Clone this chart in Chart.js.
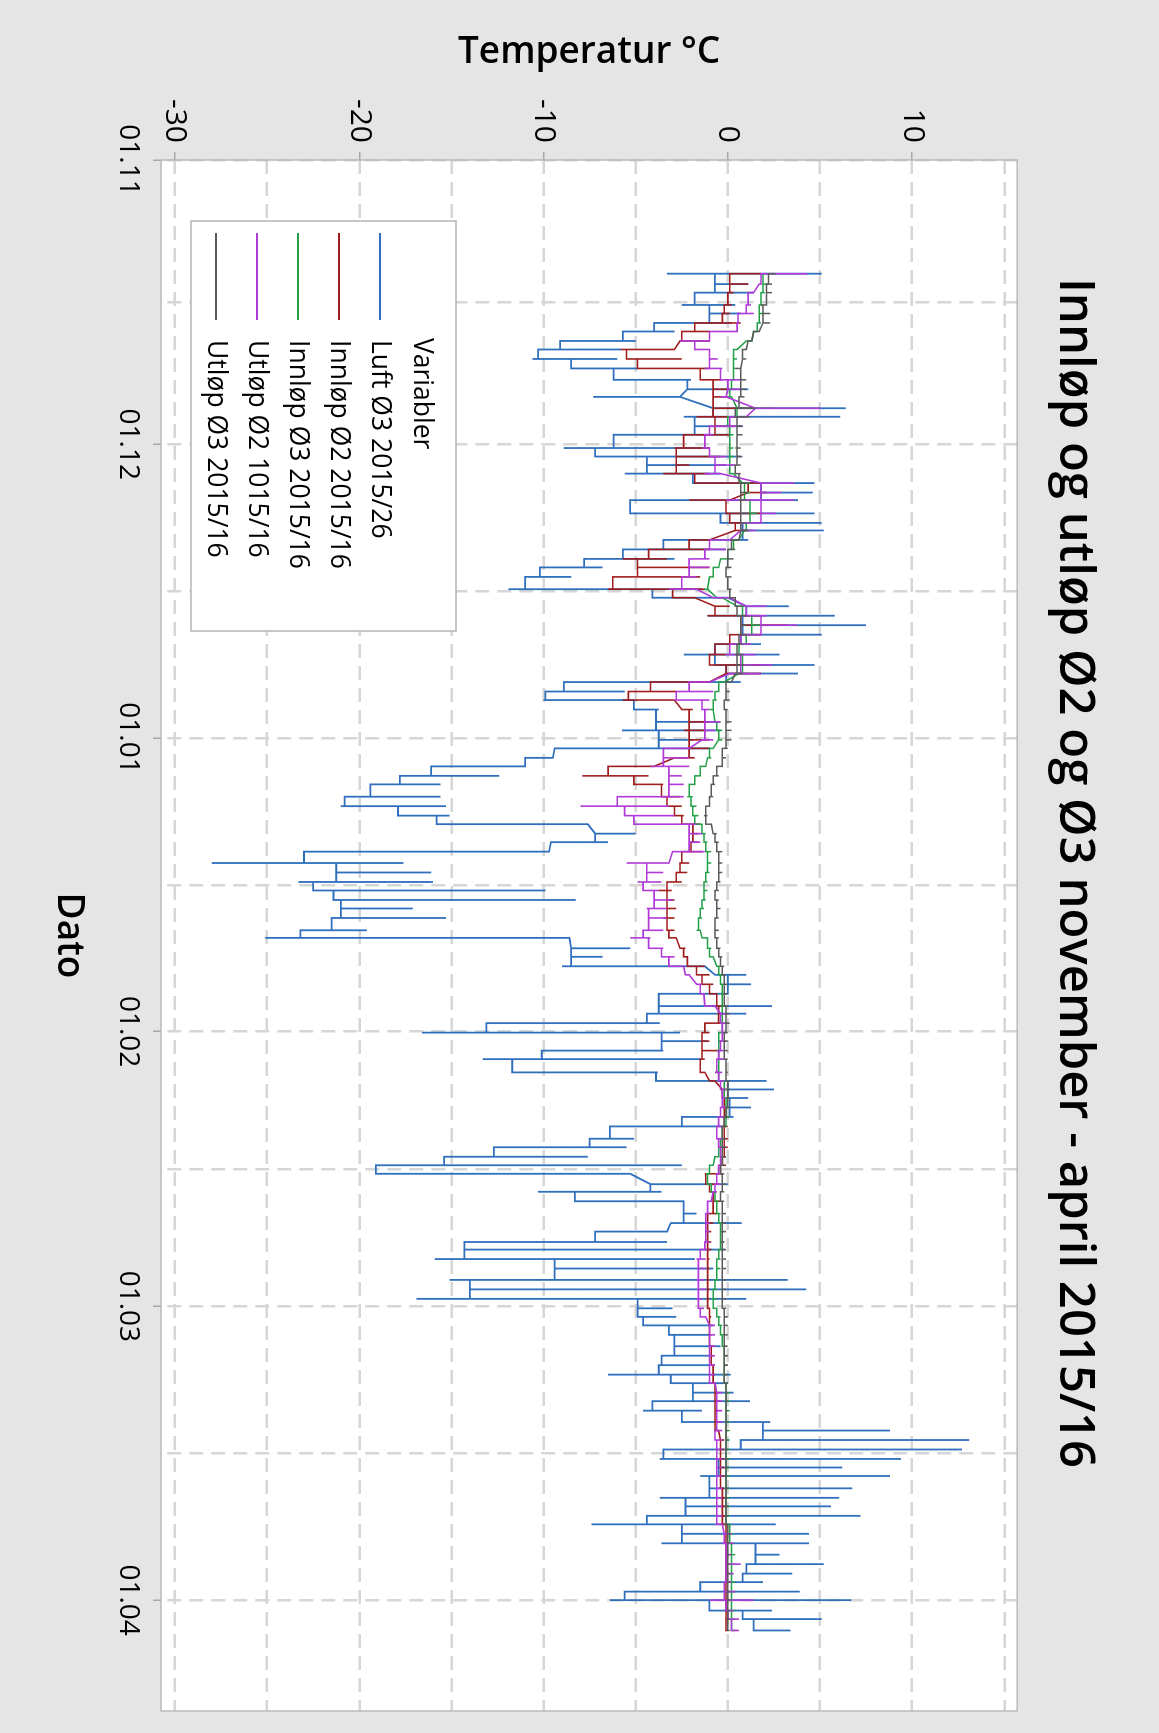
<!DOCTYPE html>
<html><head><meta charset="utf-8">
<script src="https://cdn.jsdelivr.net/npm/chart.js@4.4.1/dist/chart.umd.min.js"></script>
<style>
html,body{margin:0;padding:0;background:#e5e5e5;width:1159px;height:1733px;overflow:hidden}
#wrap{position:absolute;left:0;top:0;width:1733px;height:1159px;transform-origin:0 0;transform:translate(1159px,0) rotate(90deg)}
canvas{display:block}
</style></head><body>
<div id="wrap"><canvas id="c" width="1733" height="1159"></canvas></div>
<script>
const chartTitle = 'Innløp og utløp Ø2 og Ø3 november - april 2015/16';
const xTitle = 'Dato';
const yTitle = 'Temperatur °C';
const legendTitle = 'Variabler';
const seriesNames = ['Luft Ø3 2015/26','Innløp Ø2 2015/16','Innløp Ø3 2015/16','Utløp Ø2 1015/16','Utløp Ø3 2015/16'];
const seriesColors = ['#2f6fbd','#a01d1d','#23a047','#b03ad8','#5a5a5a'];
const seriesWidths = [1.8,1.6,1.5,1.6,1.5];

// x axis: days after 01.11.2015
const monthTickDays = [0,30,61,92,121,152];
const monthTickLabels = ['01.11','01.12','01.01','01.02','01.03','01.04'];
const midMonthDays = [15,45.5,76.5,106.5,136.5];
const tempTicks = [-30,-25,-20,-15,-10,-5,0,5,10,15];
const tempLabels = ['-30','','-20','','-10','','0','','10',''];

// reading dates (days after 01.11); each date has several readings spanning [lo, hi]
const days = [12.0,13.1,14.0,15.3,16.2,17.2,18.1,19.1,20.0,21.0,
22.0,23.2,24.2,25.0,26.2,27.1,28.1,29.0,30.4,31.3,
32.2,33.1,34.1,35.1,35.9,37.3,38.3,39.1,40.1,41.1,
42.1,43.0,44.0,45.3,46.2,47.1,48.1,49.1,50.1,51.1,
52.2,53.3,54.2,55.1,56.1,57.0,58.0,59.3,60.2,61.2,
62.1,63.1,64.0,65.0,65.9,67.2,68.2,69.2,70.1,71.1,
72.0,73.0,74.2,75.2,76.2,77.1,78.1,79.0,80.0,81.3,
82.1,83.2,84.1,85.1,86.0,87.0,88.0,89.3,90.1,91.1,
92.1,93.0,94.0,94.9,96.3,97.2,98.1,99.0,100.0,101.0,
102.0,103.3,104.2,105.2,106.1,107.0,108.1,108.9,109.9,111.2,
112.2,113.1,114.2,115.0,116.0,117.0,118.2,119.2,120.2,121.2,
122.1,123.0,124.0,125.2,126.2,127.2,128.2,129.1,130.1,131.0,
132.0,133.2,134.1,135.1,136.1,137.1,138.0,138.9,140.2,141.2,
142.1,143.1,144.0,145.0,146.0,147.2,148.2,149.2,150.1,151.1,
152.0,153.1,154.0,155.2];

const luftLo = [-3.3,-0.7,-1.8,-2.5,-1.0,-4.0,-5.7,-9.1,-10.3,-10.6,
-8.5,-6.2,-2.2,-7.3,-0.8,-2.4,-1.8,-6.2,-8.9,-7.2,
-4.4,-5.6,-1.9,1.8,-5.3,-5.3,-0.4,0.8,-3.5,-5.7,
-7.8,-10.2,-11.0,-11.9,-4.1,1.0,-1.1,0.8,0.7,-0.7,
-2.4,-0.7,-0.1,-8.9,-9.9,-10.0,-5.1,-3.9,-5.75,-3.75,
-9.4,-11.0,-16.1,-17.8,-19.4,-20.8,-21.0,-17.9,-15.8,-7.2,
-9.6,-23.0,-28.0,-21.25,-23.3,-22.5,-21.4,-21.0,-21.5,-23.2,
-25.1,-8.5,-8.5,-9.0,-0.7,0.0,-3.75,-3.75,-4.4,-13.1,
-16.6,-3.6,-10.1,-13.3,-11.7,-3.9,0.0,0.0,0.1,-2.5,
-6.4,-7.5,-12.7,-15.4,-19.1,-19.1,-4.2,-10.3,-8.3,-2.4,
-3.1,-7.2,-14.3,-14.3,-15.9,-9.4,-15.1,-14.0,-16.9,-4.9,
-4.9,-4.6,-3.2,-2.9,-3.6,-3.75,-6.5,-3.1,-1.9,-4.1,
-4.6,-2.5,1.9,0.7,-3.5,-3.7,-0.5,-1.5,-1.0,-3.7,
-2.3,-4.4,-7.4,-2.5,-3.6,1.5,1.0,0.8,-1.5,-5.6,
-6.4,-1.0,0.8,1.4];
const luftHi = [5.1,1.1,1.4,0.4,0.7,0.2,-2.9,-5.0,-5.8,-6.0,
-4.9,-2.0,1.1,-2.6,6.4,6.1,0.8,0.1,-1.0,0.7,
-0.1,-0.4,4.7,4.6,3.8,4.7,5.1,5.2,1.1,-0.1,
-2.9,-6.8,-8.5,-1.4,0.0,3.3,5.8,7.5,5.1,1.8,
2.8,4.7,3.8,0.7,-5.6,-5.1,-3.75,-0.6,-0.4,-1.9,
-1.0,-9.5,-11.0,-12.4,-15.6,-15.6,-15.3,-15.1,-7.6,-5.0,
-6.5,-9.7,-17.6,-16.1,-16.0,-9.9,-8.25,-17.1,-15.3,-19.6,
-8.6,-5.3,-6.8,-1.25,1.0,1.25,0.0,2.4,1.0,-3.7,
-2.6,-1.1,-3.5,-1.5,-3.8,2.1,2.5,1.1,1.25,0.3,
-0.3,-5.1,-5.5,-7.6,-2.5,-5.3,0.0,-3.6,-2.4,-1.7,
0.75,-3.3,-3.3,-0.15,-1.8,-0.8,3.25,4.25,1.0,-3.0,
-2.8,-0.8,-1.0,-0.4,-1.0,-1.0,0.15,0.0,0.3,1.2,
-1.4,2.3,8.8,13.1,12.7,9.4,6.2,8.8,6.75,6.05,
5.6,7.2,2.6,4.4,4.4,2.8,5.2,3.5,1.9,3.9,
6.7,2.4,5.1,3.4];

const innlop2Lo = [0.1,0.1,0.0,-0.2,-0.3,-1.8,-2.5,-2.6,-5.8,-5.5,
-4.9,-1.5,-0.8,-0.8,-0.8,-1.7,-0.7,-2.4,-2.9,-2.8,
-2.8,-3.5,-1.8,1.1,-2.1,-0.1,0.1,0.4,-2.1,-4.3,
-5.7,-4.9,-6.25,-6.5,-3.0,-0.7,-1.1,0.7,0.1,-0.7,
-1.0,-1.0,-0.1,-4.2,-5.4,-5.7,-2.5,-2.1,-2.4,-2.1,
-2.1,-2.9,-6.5,-7.9,-5.1,-3.6,-3.3,-2.9,-2.5,-1.9,
-2.0,-2.5,-2.6,-2.8,-3.3,-3.75,-3.3,-3.3,-3.5,-3.3,
-3.2,-2.6,-2.4,-2.2,-1.7,-1.4,-1.0,-0.6,-0.5,-1.25,
-1.4,-1.4,-1.4,-1.5,-1.5,-1.0,-0.3,-0.3,-0.2,-0.2,
-0.2,-0.2,-0.2,-0.3,-0.4,-1.25,-1.2,-1.0,-0.8,-1.1,
-1.1,-1.1,-1.1,-1.1,-1.1,-1.1,-1.1,-1.1,-1.1,-1.1,
-1.0,-1.0,-1.0,-1.0,-0.9,-0.9,-0.8,-0.8,-0.7,-0.7,
-0.7,-0.7,-0.7,-0.4,-0.4,-0.4,-0.4,-0.4,-0.4,-0.3,
-0.3,-0.3,-0.3,-0.1,-0.1,-0.1,-0.1,-0.1,-0.1,-0.1,
-0.1,-0.1,-0.1,-0.1];
const innlop2Hi = [1.8,1.1,0.3,0.2,0.1,0.7,-1.0,-1.0,-2.9,-2.5,
-1.0,-0.3,0.0,0.0,1.5,0.4,0.4,0.1,-1.0,-0.4,
-2.1,-1.0,1.8,2.1,0.1,1.8,0.7,1.0,-1.0,-1.0,
-3.3,-1.0,-1.5,-1.25,-1.8,0.1,1.8,3.2,1.8,0.4,
-0.1,1.8,1.8,-1.0,-2.8,-2.9,-1.9,-1.0,-1.25,-1.0,
-1.0,-1.8,-4.0,-4.3,-3.5,-2.6,-2.5,-2.4,-1.5,-1.6,
-1.6,-1.4,-2.1,-2.2,-2.5,-3.05,-2.9,-2.8,-2.9,-2.9,
-2.8,-2.3,-2.2,-1.25,-1.0,-0.8,-0.6,-0.3,-0.3,-0.3,
-1.0,-1.0,-0.4,-1.25,-1.25,-0.7,0.0,0.0,0.0,0.0,
0.0,0.0,0.0,-0.1,-0.1,-0.4,-0.5,-0.6,-0.4,-0.6,
-0.8,-0.9,-0.9,-0.9,-1.0,-1.0,-1.0,-1.0,-1.0,-1.0,
-0.9,-0.9,-0.9,-0.8,-0.8,-0.7,-0.7,-0.7,-0.5,-0.5,
-0.5,-0.5,-0.5,-0.2,-0.2,-0.2,-0.2,-0.2,-0.2,-0.1,
-0.1,-0.1,-0.1,0.0,0.0,0.0,0.0,0.0,0.0,0.0,
0.0,0.0,0.0,0.0];

const innlop3Lo = [1.9,1.9,1.8,1.7,1.7,1.6,1.4,1.0,0.3,0.3,
0.3,0.2,0.1,0.0,0.5,0.0,-0.3,0.1,0.1,0.1,
0.1,0.1,0.8,0.9,0.9,1.2,1.0,0.9,0.3,0.0,
-0.4,-0.8,-1.0,-1.3,-0.6,0.5,0.8,1.3,1.0,0.6,
0.5,0.8,0.6,-0.5,-0.7,-0.8,-1.0,-0.7,-0.6,-0.5,
-1.0,-1.1,-1.5,-1.8,-2.1,-2.2,-2.0,-1.9,-1.8,-1.4,
-1.3,-1.2,-1.1,-1.2,-1.3,-1.3,-1.4,-1.5,-1.6,-1.7,
-1.4,-1.1,-1.0,-0.6,-0.5,-0.4,-0.3,-0.3,-0.4,-0.3,
-0.5,-0.5,-0.6,-0.5,-0.7,-0.5,-0.2,-0.2,-0.1,-0.1,
-0.3,-0.4,-0.5,-0.7,-1.0,-1.2,-1.1,-0.9,-0.7,-0.6,
-0.5,-0.4,-0.4,-0.5,-0.6,-0.6,-0.7,-0.8,-0.8,-0.8,
-0.6,-0.5,-0.4,-0.3,-0.2,-0.2,-0.3,-0.2,-0.1,-0.1,
-0.1,-0.1,-0.1,-0.1,-0.1,-0.1,-0.1,-0.1,-0.1,-0.1,
-0.1,-0.1,-0.1,0.1,0.1,0.2,0.2,0.1,0.2,0.2,
0.1,0.2,0.2,0.2];
const innlop3Hi = [2.2,2.2,2.0,1.9,1.9,1.8,1.6,1.3,0.5,0.5,
0.4,0.4,0.4,0.2,2.4,0.6,0.2,0.3,0.3,0.3,
0.3,0.3,1.2,1.2,1.3,1.6,1.4,1.3,0.6,0.3,
0.0,-0.5,-0.8,-1.1,-0.3,1.0,1.5,1.9,1.5,1.0,
0.9,1.3,1.0,-0.2,-0.5,-0.6,-0.8,-0.4,-0.3,-0.3,
-0.8,-0.9,-1.2,-1.5,-1.8,-1.9,-1.7,-1.6,-1.4,-1.2,
-1.1,-0.9,-0.9,-1.0,-1.1,-1.1,-1.2,-1.3,-1.4,-1.5,
-1.1,-0.9,-0.8,-0.4,-0.3,-0.2,-0.1,-0.1,-0.2,-0.1,
-0.3,-0.3,-0.4,-0.3,-0.5,-0.2,0.0,0.0,0.1,0.1,
-0.1,-0.2,-0.3,-0.5,-0.8,-1.0,-0.9,-0.7,-0.5,-0.4,
-0.3,-0.2,-0.2,-0.3,-0.4,-0.4,-0.5,-0.6,-0.6,-0.6,
-0.4,-0.3,-0.2,-0.1,0.0,0.0,-0.1,0.0,0.1,0.1,
0.1,0.1,0.1,0.1,0.1,0.1,0.1,0.1,0.1,0.1,
0.1,0.1,0.1,0.3,0.3,0.4,0.4,0.3,0.4,0.4,
0.3,0.4,0.4,0.4];

const utlop2Lo = [1.8,1.7,1.1,1.0,0.55,0.5,-1.0,-2.6,-1.8,-1.0,
-1.25,-0.4,0.0,-0.4,1.5,0.1,-1.0,-1.25,-1.4,-1.0,
-0.7,-1.25,1.8,1.8,-0.1,1.8,0.7,0.7,-1.0,-1.25,
-2.1,-2.1,-2.5,-3.2,-0.8,1.0,0.7,1.8,0.7,0.1,
-0.1,0.7,0.1,-2.1,-2.8,-2.9,-1.4,-1.25,-1.25,-1.4,
-3.5,-3.5,-4.2,-3.2,-3.2,-6.0,-8.0,-5.6,-5.1,-2.1,
-2.1,-3.0,-5.5,-4.4,-4.9,-4.6,-4.0,-4.4,-4.3,-4.6,
-5.3,-4.3,-3.6,-3.2,-2.3,-1.7,-1.5,-1.25,-0.4,-0.4,
-0.3,-0.4,-0.5,-0.6,-0.7,-0.5,-0.4,-0.3,-0.4,-0.5,
-0.6,-0.6,-0.5,-0.4,-0.5,-0.6,-0.7,-0.8,-1.1,-1.25,
-1.2,-1.2,-1.25,-1.5,-1.7,-1.6,-1.7,-1.6,-1.7,-1.6,
-1.5,-1.0,-1.0,-1.0,-1.0,-1.0,-1.0,-1.0,-0.6,-0.6,
-0.6,-0.6,-0.7,-0.7,-0.6,-0.6,-0.6,-0.6,-0.6,-0.6,
-0.6,-0.6,-0.6,-0.2,-0.3,-0.1,-0.1,-0.1,-0.2,-0.2,
-1.0,-0.1,0.0,0.2];
const utlop2Hi = [4.3,1.8,1.4,1.25,1.4,0.6,0.55,-1.0,-1.0,-0.55,
-0.3,0.7,0.7,-0.1,5.0,1.0,0.8,-0.8,-1.0,-0.1,
0.4,-0.4,3.6,2.9,3.6,2.6,1.8,1.5,0.1,-0.1,
-1.0,-1.0,-1.7,-1.7,0.1,2.1,2.1,3.75,1.8,1.25,
1.5,2.4,1.8,-1.0,-0.8,-1.0,-1.0,-0.4,-0.7,-0.8,
-2.1,-2.1,-2.1,-2.5,-2.4,-2.4,-3.2,-2.9,-1.7,-1.4,
-1.5,-1.25,-3.2,-3.5,-3.6,-3.75,-3.0,-3.3,-3.3,-3.5,
-4.2,-3.5,-2.9,-2.4,-2.1,-1.4,-1.3,-0.7,0.0,0.0,
-0.1,-0.1,-0.2,-0.2,-0.3,-0.2,-0.1,-0.1,-0.1,-0.2,
-0.3,-0.3,-0.2,-0.2,-0.3,-0.3,-0.4,-0.6,-0.9,-1.0,
-1.0,-1.0,-1.0,-1.1,-1.2,-1.2,-1.3,-1.2,-1.4,-1.3,
-1.2,-0.7,-0.7,-0.7,-0.7,-0.7,-0.7,-0.7,-0.3,-0.3,
-0.3,-0.3,-0.3,-0.3,-0.3,-0.3,-0.3,-0.3,-0.3,-0.3,
-0.3,-0.3,-0.3,0.2,0.3,0.2,0.7,0.3,0.2,0.4,
1.4,0.3,0.6,0.6];

const utlop3Lo = [2.2,2.1,2.1,1.8,1.9,1.9,1.4,1.1,0.8,0.8,
0.4,0.7,0.7,0.6,0.4,0.4,0.5,0.5,0.4,0.5,
0.4,0.4,0.6,0.7,0.6,0.7,0.7,0.7,0.2,0.0,
0.0,-0.1,-0.1,0.0,0.1,0.4,0.5,0.7,0.6,0.5,
0.4,0.5,0.4,-0.1,-0.1,-0.2,-0.2,-0.1,-0.1,-0.1,
-0.3,-0.3,-0.6,-0.8,-0.9,-1.0,-1.2,-1.3,-1.2,-0.8,
-0.7,-0.6,-0.5,-0.5,-0.6,-0.7,-0.7,-0.6,-0.7,-0.7,
-0.7,-0.6,-0.5,-0.4,-0.3,-0.2,-0.2,-0.2,-0.1,-0.1,
-0.2,-0.2,-0.2,-0.2,-0.1,-0.1,0.0,0.0,-0.1,-0.2,
-0.3,-0.3,-0.3,-0.3,-0.4,-0.4,-0.3,-0.4,-0.4,-0.3,
-0.3,-0.3,-0.4,-0.3,-0.3,-0.3,-0.3,-0.3,-0.3,-0.3,
-0.2,-0.2,-0.2,-0.2,-0.2,-0.2,-0.2,-0.2,-0.1,-0.1,
-0.1,-0.1,-0.1,-0.1,-0.1,-0.1,-0.1,-0.1,-0.1,-0.1,
-0.1,-0.1,-0.1,0.0,0.0,0.0,0.0,0.0,0.0,0.0,
0.0,0.0,0.0,0.0];
const utlop3Hi = [2.6,2.4,2.4,2.1,2.3,2.3,1.7,1.3,1.0,1.0,
0.7,1.0,1.0,0.9,1.5,1.2,0.8,0.8,0.7,0.8,
0.7,0.7,1.1,1.1,1.0,1.1,1.0,1.1,0.6,0.4,
0.3,0.2,0.2,0.2,0.4,0.8,1.0,1.0,1.0,0.8,
0.8,0.9,0.8,0.2,0.1,0.1,0.0,0.2,0.2,0.2,
0.0,-0.1,-0.3,-0.5,-0.7,-0.8,-1.0,-1.1,-0.9,-0.6,
-0.5,-0.3,-0.3,-0.3,-0.4,-0.5,-0.5,-0.4,-0.5,-0.5,
-0.5,-0.4,-0.3,-0.2,-0.1,0.0,0.0,0.0,0.1,0.1,
0.0,0.0,0.0,0.0,0.0,0.1,0.1,0.1,0.1,0.0,
-0.1,-0.1,-0.1,-0.1,-0.2,-0.2,-0.1,-0.2,-0.2,-0.1,
-0.1,-0.1,-0.2,-0.1,-0.1,-0.1,-0.1,-0.1,-0.1,-0.1,
0.0,0.0,0.0,0.0,0.0,0.0,0.0,0.0,0.0,0.0,
0.0,0.0,0.0,0.0,0.0,0.0,0.0,0.0,0.0,0.0,
0.0,0.0,0.0,0.1,0.1,0.1,0.1,0.1,0.1,0.1,
0.1,0.1,0.1,0.1];

// Path through the readings: all readings of one date share its x (drawn as one span lo..hi);
// the line then continues from the last reading of the date to the first reading of the next date.
function buildPoints(lo, hi) {
  const pts = [];
  const n = days.length;
  let start = lo[0];
  for (let i = 0; i < n; i++) {
    const L = lo[i], H = hi[i];
    let end = H;
    if (i + 1 < n) {
      const nl = lo[i + 1], nh = hi[i + 1];
      const ol = Math.max(L, nl), oh = Math.min(H, nh);
      end = ol <= oh ? ol : (nh < L ? L : H);
    }
    const first = Math.abs(start - L) < Math.abs(start - H) ? H : L;
    pts.push({x: days[i], y: start}, {x: days[i], y: L === first ? H : L}, {x: days[i], y: first}, {x: days[i], y: end});
    if (i + 1 < n) start = Math.min(Math.max(end, lo[i + 1]), hi[i + 1]);
  }
  return pts;
}
const seriesLo = [luftLo, innlop2Lo, innlop3Lo, utlop2Lo, utlop3Lo];
const seriesHi = [luftHi, innlop2Hi, innlop3Hi, utlop2Hi, utlop3Hi];

const FONT = "'Open Sans', 'Noto Sans', sans-serif";
Chart.defaults.font.family = FONT;
Chart.defaults.color = '#000';

const xTicks = monthTickDays.concat(midMonthDays).sort((a,b)=>a-b);

const framePlugin = {
  id: 'frame',
  beforeDraw(chart) {
    const {ctx, chartArea: a} = chart;
    ctx.save();
    ctx.fillStyle = '#e5e5e5';
    ctx.fillRect(0, 0, chart.width, chart.height);
    ctx.fillStyle = '#ffffff';
    ctx.fillRect(a.left, a.top, a.right - a.left, a.bottom - a.top);
    ctx.restore();
  },
  beforeDatasetsDraw(chart) {
    const {ctx, chartArea: a} = chart;
    ctx.save();
    ctx.strokeStyle = '#b9b9b9';
    ctx.lineWidth = 1.5;
    ctx.strokeRect(a.left, a.top, a.right - a.left, a.bottom - a.top);
    ctx.restore();
  },
  afterDatasetsDraw(chart) {
    const {ctx} = chart;
    const box = {l: 221, t: 703, r: 631, b: 968};
    ctx.save();
    ctx.fillStyle = '#ffffff';
    ctx.fillRect(box.l, box.t, box.r - box.l, box.b - box.t);
    ctx.strokeStyle = '#b4b4b4';
    ctx.lineWidth = 1.5;
    ctx.strokeRect(box.l, box.t, box.r - box.l, box.b - box.t);
    ctx.font = '500 26.5px ' + FONT;
    ctx.fillStyle = '#000';
    ctx.textBaseline = 'middle';
    ctx.textAlign = 'left';
    ctx.fillText(legendTitle, 338, 737);
    seriesNames.forEach((name, i) => {
      const y = 779 + i * 41;
      ctx.strokeStyle = seriesColors[i];
      ctx.lineWidth = 2;
      ctx.beginPath(); ctx.moveTo(233, y); ctx.lineTo(320, y); ctx.stroke();
      ctx.fillText(name, 340, y);
    });
    ctx.restore();
  }
};

const datasets = seriesNames.map((name, i) => ({
  label: name,
  data: buildPoints(seriesLo[i], seriesHi[i]),
  borderColor: seriesColors[i],
  backgroundColor: seriesColors[i],
  borderWidth: seriesWidths[i],
  pointRadius: 0,
  fill: false,
  tension: 0,
  order: 5 - i
}));

new Chart(document.getElementById('c'), {
  type: 'line',
  data: { datasets },
  options: {
    responsive: false,
    animation: false,
    layout: { padding: { left: 35, right: 22, top: 0, bottom: 0 } },
    plugins: {
      legend: { display: false },
      tooltip: { enabled: false },
      title: {
        display: true, text: chartTitle, color: '#000',
        font: { size: 49, weight: '600', family: FONT },
        padding: { top: 56, bottom: 27 }
      }
    },
    scales: {
      x: {
        type: 'linear', min: 0, max: 163.7,
        afterBuildTicks(s) { s.ticks = xTicks.map(v => ({ value: v })); },
        afterFit(s) { s.height = 161; },
        ticks: {
          autoSkip: false, maxRotation: 0, minRotation: 0, padding: 8, color: '#000',
          font: { size: 28, weight: '500' },
          callback(v) { const i = monthTickDays.indexOf(v); return i >= 0 ? monthTickLabels[i] : ''; }
        },
        grid: {
          color: '#d6d6d6', lineWidth: 2.5, tickLength: 8, tickWidth: 1.5, tickBorderDash: [],
          borderDash: [14, 8],
          tickColor: (c) => (c.tick && monthTickDays.includes(c.tick.value)) ? '#a8a8a8' : 'rgba(0,0,0,0)'
        },
        border: { display: false, dash: [14, 8] },
        title: { display: true, text: xTitle, color: '#000', font: { size: 37, weight: '600' }, padding: { top: 0, bottom: 46 } }
      },
      y: {
        type: 'linear', min: -30.76, max: 15.7,
        afterBuildTicks(s) { s.ticks = tempTicks.map(v => ({ value: v })); },
        afterFit(s) { s.width = 125; },
        ticks: {
          autoSkip: false, padding: 9, color: '#000', font: { size: 30, weight: '500' },
          callback(v) { const i = tempTicks.indexOf(v); return i >= 0 ? tempLabels[i] : ''; }
        },
        grid: {
          color: '#d6d6d6', lineWidth: 2.5, tickLength: 8, tickWidth: 1.5, tickBorderDash: [],
          borderDash: [14, 8],
          tickColor: (c) => (c.tick && c.tick.value % 10 === 0) ? '#a8a8a8' : 'rgba(0,0,0,0)'
        },
        border: { display: false, dash: [14, 8] },
        title: { display: true, text: yTitle, color: '#000', font: { size: 37, weight: '600' }, padding: { top: -5, bottom: 0 } }
      }
    }
  },
  plugins: [framePlugin]
});
</script>
</body></html>
